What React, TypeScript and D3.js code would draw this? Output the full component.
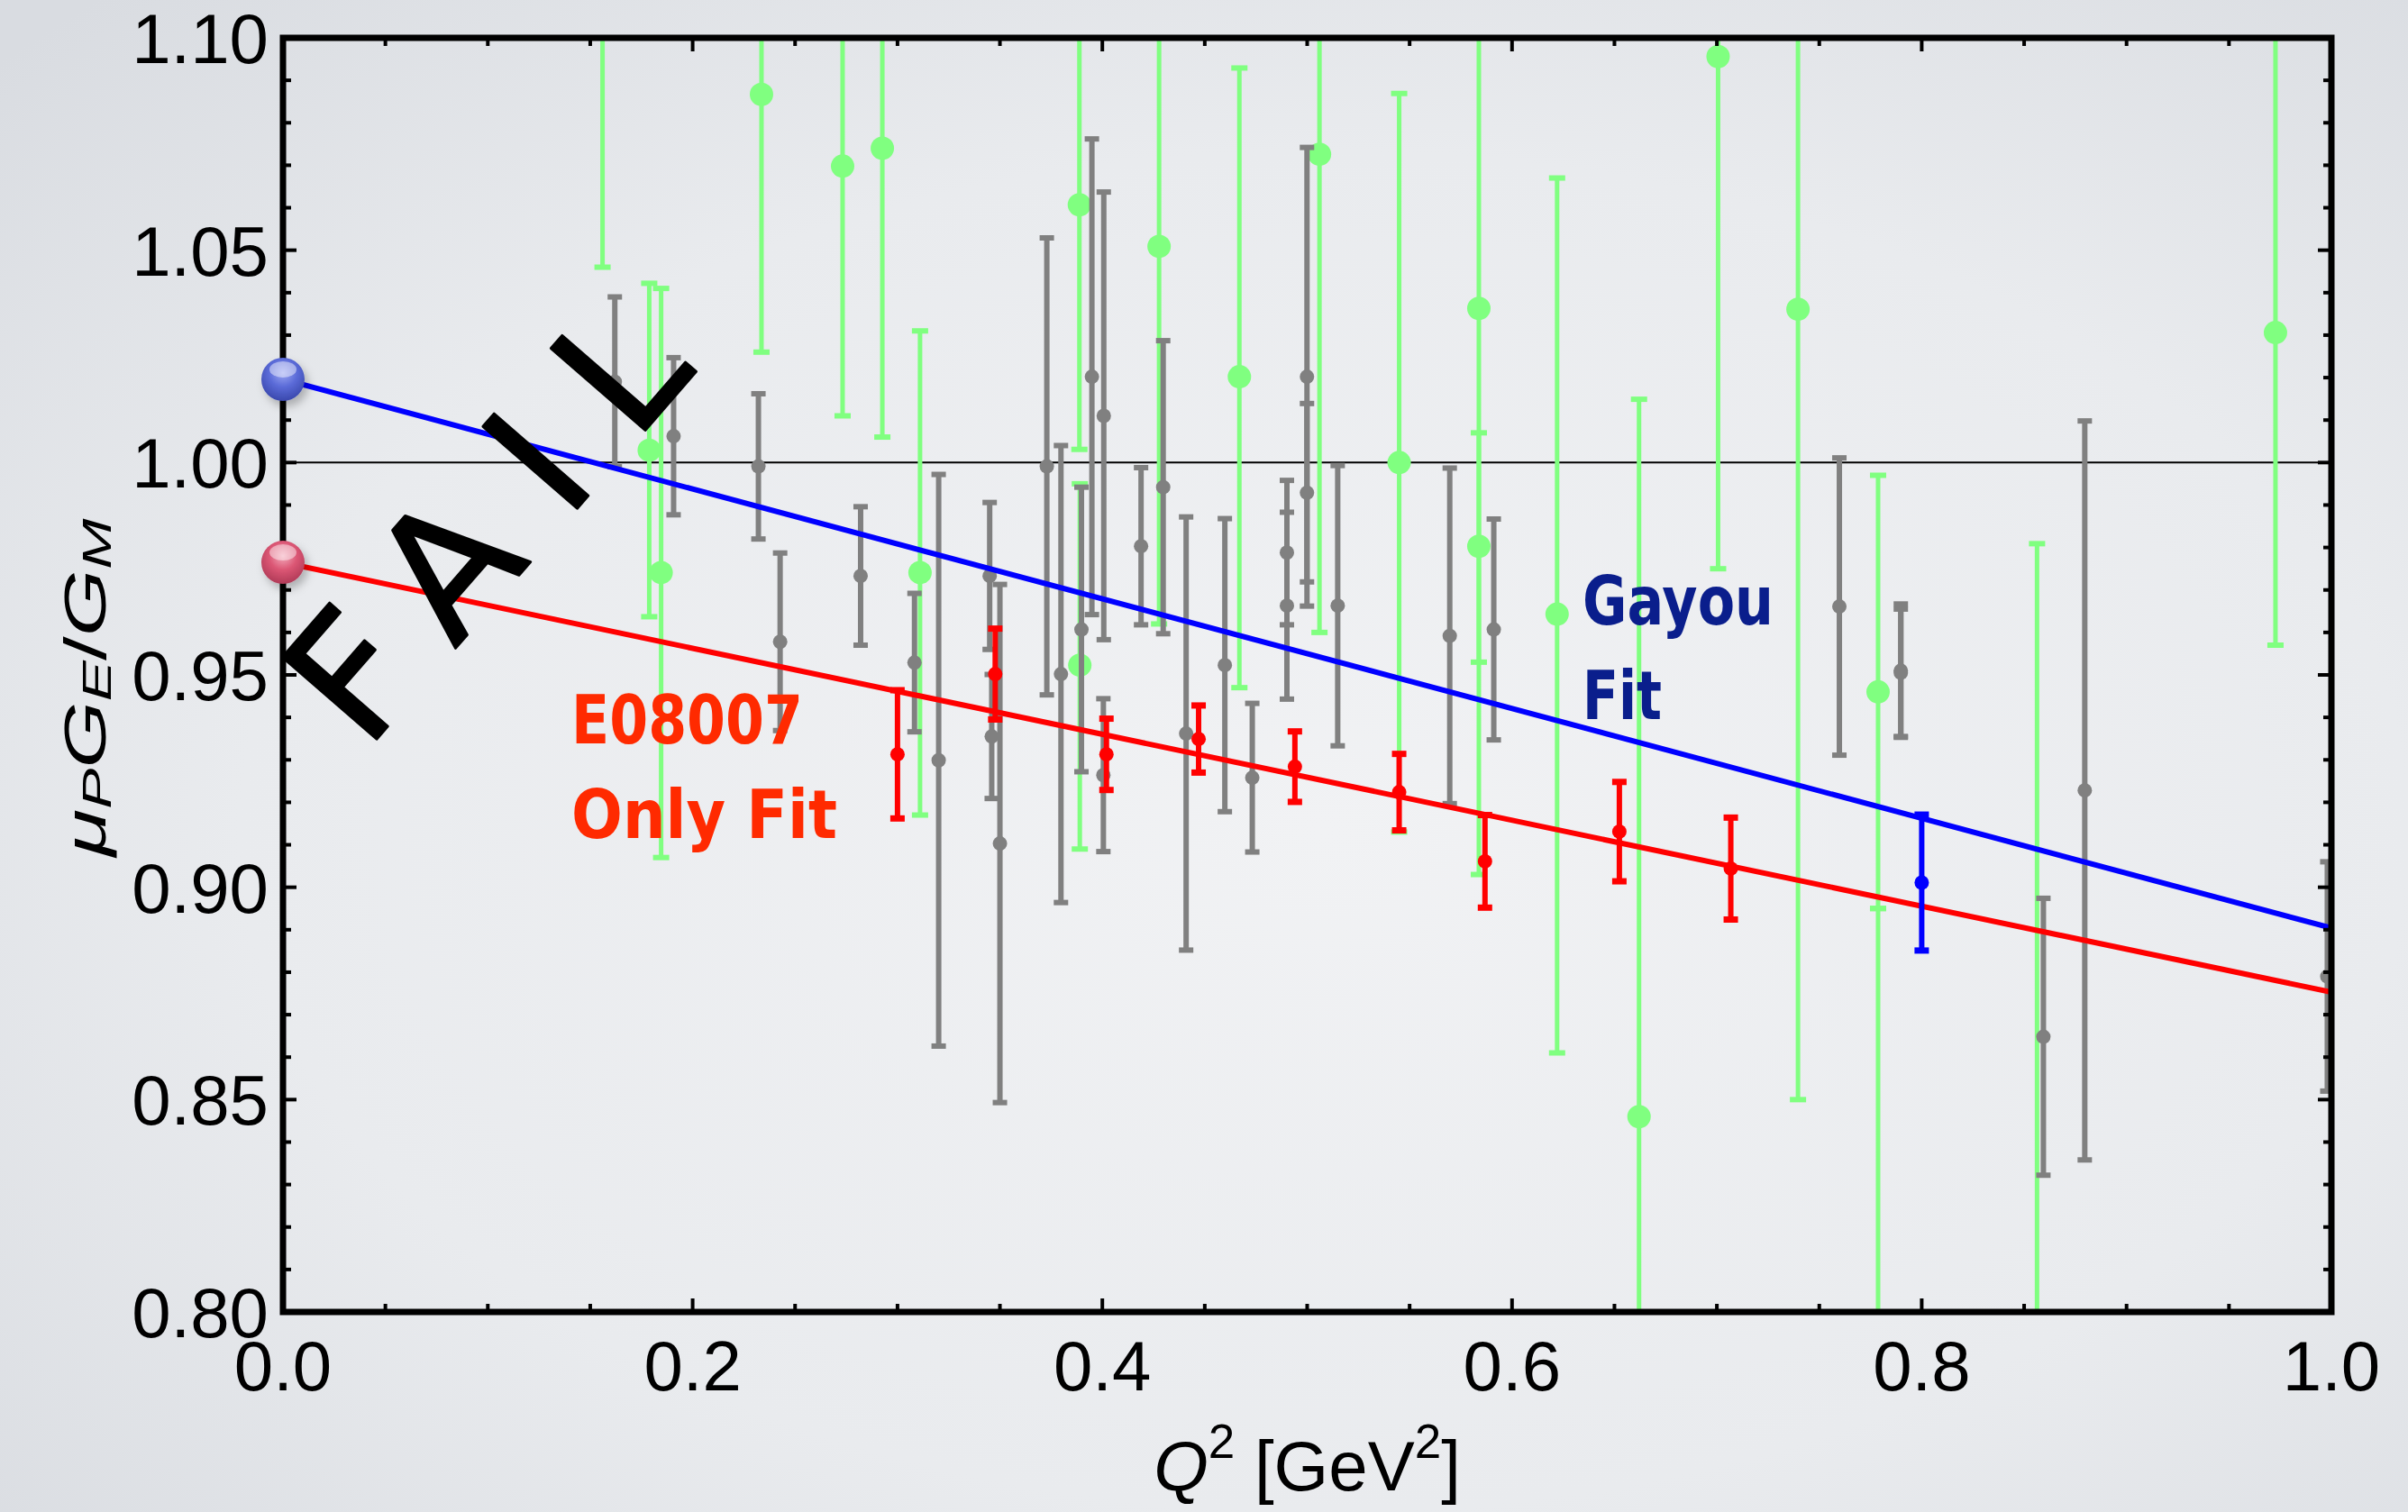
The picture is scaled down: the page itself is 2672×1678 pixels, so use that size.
import * as d3 from "d3";

const WIDTH = 2672;
const HEIGHT = 1678;
const MARGIN = { top: 42, right: 85, bottom: 222, left: 314 };

// E08007 data (red)
const e08007Q2 = [0.3, 0.3477, 0.402, 0.447, 0.494, 0.5449, 0.5868, 0.6524, 0.7068];
const e08007Val = [0.9313, 0.9502, 0.9313, 0.9349, 0.9284, 0.9224, 0.9061, 0.9131, 0.9044];
const e08007Err = [0.0151, 0.0107, 0.0084, 0.0079, 0.0083, 0.009, 0.0109, 0.0117, 0.012];

// single blue point
const blueQ2 = [0.8];
const blueVal = [0.9011];
const blueErr = [0.016];

// world data, polarization measurements (gray)
const grayQ2 = [
  0.162, 0.1907, 0.2321, 0.2427, 0.282, 0.3083, 0.3201, 0.345, 0.346, 0.35, 0.3729, 0.3798,
  0.3898, 0.3949, 0.4005, 0.4007, 0.4189, 0.4297, 0.4409, 0.4598, 0.4732, 0.4901, 0.4901,
  0.4999, 0.4999, 0.5149, 0.5696, 0.5911, 0.7598, 0.7898, 0.7898, 0.8594, 0.8796, 0.998,
];
const grayVal = [
  1.019, 1.0062, 0.9991, 0.9578, 0.9733, 0.9529, 0.9299, 0.9733, 0.9355, 0.9103, 0.9991, 0.9502,
  0.9607, 1.0202, 0.9264, 1.011, 0.9803, 0.9942, 0.9362, 0.9523, 0.9258, 0.9788, 0.9663,
  1.0202, 0.9929, 0.9663, 0.9592, 0.9607, 0.9661, 0.9505, 0.951, 0.8648, 0.9228, 0.879,
];
const grayErr = [
  0.02, 0.0185, 0.0171, 0.0209, 0.0163, 0.0163, 0.0673, 0.0173, 0.0146, 0.061, 0.0538, 0.0538,
  0.0335, 0.056, 0.018, 0.0527, 0.0185, 0.0345, 0.051, 0.0345, 0.0175, 0.017, 0.022,
  0.054, 0.021, 0.033, 0.0395, 0.026, 0.035, 0.015, 0.0157, 0.0326, 0.087, 0.027,
];

// world data, Rosenbluth (green) - lower / upper ends of the bars
const greenQ2 = [
  0.156, 0.1788, 0.1846, 0.2336, 0.2732, 0.2926, 0.311, 0.3888, 0.389, 0.4277, 0.4669, 0.506,
  0.5449, 0.5838, 0.5838, 0.622, 0.662, 0.7006, 0.7396, 0.7787, 0.7787, 0.8563, 0.9727,
];
const greenVal = [
  1.15, 1.0029, 0.9741, 1.0867, 1.0698, 1.074, 0.9741, 1.0607, 0.9523, 1.0509, 1.0202, 1.0726,
  1.0, 1.0363, 0.9803, 0.9643, 0.846, 1.0956, 1.0361, 0.946, 0.78, 0.78, 1.0306,
];
const greenLo = [
  1.046, 0.9637, 0.907, 1.026, 1.011, 1.006, 0.917, 1.0031, 0.909, 0.962, 0.947, 0.96,
  0.913, 0.953, 0.903, 0.861, 0.677, 0.975, 0.85, 0.895, 0.66, 0.58, 0.957,
];
const greenHi = [
  1.254, 1.0422, 1.041, 1.147, 1.129, 1.142, 1.031, 1.118, 0.995, 1.14, 1.0929, 1.186,
  1.0869, 1.119, 1.007, 1.067, 1.0149, 1.216, 1.222, 0.997, 0.895, 0.9809, 1.104,
];

// linear fits, value at Q2 = 0 and Q2 = 1
const fitQ2 = [0, 1];
const gayouFit = [1.0196, 0.8904];
const e08007Fit = [0.9765, 0.8753];

const xScale = d3.scaleLinear().domain([0, 1]).range([MARGIN.left, WIDTH - MARGIN.right]);
const yScale = d3.scaleLinear().domain([0.8, 1.1]).range([HEIGHT - MARGIN.bottom, MARGIN.top]);

const x0 = xScale(0);
const x1 = xScale(1);
const yBot = yScale(0.8);
const yTop = yScale(1.1);

const TICK_FONT = "'Liberation Sans', Arial, Helvetica, sans-serif";
const HAND_FONT = "'Comic Sans MS', Chalkboard, 'DejaVu Sans', sans-serif";

const ErrorBars = ({ q2, val, lo, hi, color, barW, capW, capH, r }) => (
  <g>
    {q2.map((q, i) => {
      const cx = xScale(q);
      const yl = yScale(lo[i]);
      const yh = yScale(hi[i]);
      return (
        <g key={i}>
          <line x1={cx} x2={cx} y1={yl} y2={yh} stroke={color} strokeWidth={barW} />
          <rect x={cx - capW / 2} y={yl - capH / 2} width={capW} height={capH} fill={color} />
          <rect x={cx - capW / 2} y={yh - capH / 2} width={capW} height={capH} fill={color} />
          <circle cx={cx} cy={yScale(val[i])} r={r} fill={color} />
        </g>
      );
    })}
  </g>
);

const Sphere = ({ cx, cy, id }) => (
  <g filter="url(#sphereShadow)">
    <circle cx={cx} cy={cy} r={24} fill={`url(#${id})`} />
    <ellipse cx={cx} cy={cy - 11} rx={15} ry={9} fill="white" opacity={0.45} />
  </g>
);

export default function App() {
  const fitLine = d3
    .line()
    .x((d) => xScale(d[0]))
    .y((d) => yScale(d[1]));

  const xMajor = xScale.ticks(5);
  const xMinor = d3.range(0, 21).map((i) => i * 0.05);
  const yMajor = d3.range(0, 7).map((i) => 0.8 + i * 0.05);
  const yMinor = d3.range(0, 31).map((i) => 0.8 + i * 0.01);

  const symLo = (v, e) => v.map((d, i) => d - e[i]);
  const symHi = (v, e) => v.map((d, i) => d + e[i]);

  return (
    <svg
      width={WIDTH}
      height={HEIGHT}
      style={{ position: "absolute", left: 0, top: 0, display: "block" }}
    >
      <defs>
        <radialGradient id="bg" cx="55%" cy="55%" r="75%">
          <stop offset="0%" stopColor="#f1f2f4" />
          <stop offset="60%" stopColor="#e9ebee" />
          <stop offset="100%" stopColor="#d9dce1" />
        </radialGradient>
        <radialGradient id="blueBall" cx="50%" cy="35%" r="65%">
          <stop offset="0%" stopColor="#9aa6f2" />
          <stop offset="50%" stopColor="#5b6bd8" />
          <stop offset="100%" stopColor="#3a48ad" />
        </radialGradient>
        <radialGradient id="redBall" cx="50%" cy="35%" r="65%">
          <stop offset="0%" stopColor="#f3a9ba" />
          <stop offset="50%" stopColor="#db5674" />
          <stop offset="100%" stopColor="#b03a57" />
        </radialGradient>
        <filter id="sphereShadow" x="-50%" y="-50%" width="200%" height="200%">
          <feDropShadow dx="4" dy="6" stdDeviation="5" floodColor="#000" floodOpacity="0.25" />
        </filter>
        <clipPath id="plotClip">
          <rect x={x0} y={yTop} width={x1 - x0} height={yBot - yTop} />
        </clipPath>
      </defs>

      <rect x={0} y={0} width={WIDTH} height={HEIGHT} fill="url(#bg)" />

      {/* reference line at 1 */}
      <line x1={x0} x2={x1} y1={yScale(1)} y2={yScale(1)} stroke="black" strokeWidth={2} />

      <g clipPath="url(#plotClip)">
        <ErrorBars
          q2={greenQ2}
          val={greenVal}
          lo={greenLo}
          hi={greenHi}
          color="#80ff80"
          barW={5}
          capW={18}
          capH={6}
          r={13}
        />
        <ErrorBars
          q2={grayQ2}
          val={grayVal}
          lo={symLo(grayVal, grayErr)}
          hi={symHi(grayVal, grayErr)}
          color="#808080"
          barW={6}
          capW={16}
          capH={6}
          r={8}
        />
        <path
          d={fitLine(fitQ2.map((q, i) => [q, gayouFit[i]]))}
          stroke="#0000ff"
          strokeWidth={6}
          fill="none"
        />
        <path
          d={fitLine(fitQ2.map((q, i) => [q, e08007Fit[i]]))}
          stroke="#ff0000"
          strokeWidth={6}
          fill="none"
        />
        <ErrorBars
          q2={e08007Q2}
          val={e08007Val}
          lo={symLo(e08007Val, e08007Err)}
          hi={symHi(e08007Val, e08007Err)}
          color="#ff0000"
          barW={6}
          capW={16}
          capH={7}
          r={8}
        />
        <ErrorBars
          q2={blueQ2}
          val={blueVal}
          lo={symLo(blueVal, blueErr)}
          hi={symHi(blueVal, blueErr)}
          color="#0000ff"
          barW={6}
          capW={16}
          capH={7}
          r={8}
        />
      </g>

      {/* frame and ticks */}
      <rect x={x0} y={yTop} width={x1 - x0} height={yBot - yTop} fill="none" stroke="black" strokeWidth={7} />
      {xMinor.map((v, i) => {
        const len = xMajor.some((m) => Math.abs(m - v) < 1e-6) ? 15 : 9;
        return (
          <g key={`xt${i}`}>
            <line x1={xScale(v)} x2={xScale(v)} y1={yBot} y2={yBot - len} stroke="black" strokeWidth={4} />
            <line x1={xScale(v)} x2={xScale(v)} y1={yTop} y2={yTop + len} stroke="black" strokeWidth={4} />
          </g>
        );
      })}
      {yMinor.map((v, i) => {
        const len = yMajor.some((m) => Math.abs(m - v) < 1e-6) ? 15 : 9;
        return (
          <g key={`yt${i}`}>
            <line x1={x0} x2={x0 + len} y1={yScale(v)} y2={yScale(v)} stroke="black" strokeWidth={4} />
            <line x1={x1} x2={x1 - len} y1={yScale(v)} y2={yScale(v)} stroke="black" strokeWidth={4} />
          </g>
        );
      })}
      {yMajor.map((v, i) => (
        <text
          key={`yl${i}`}
          x={x0 - 16}
          y={yScale(v)}
          dy="0.36em"
          textAnchor="end"
          fontSize={78}
          fontFamily={TICK_FONT}
        >
          {d3.format(".2f")(v)}
        </text>
      ))}
      {xMajor.map((v, i) => (
        <text
          key={`xl${i}`}
          x={xScale(v)}
          y={yBot + 87}
          textAnchor="middle"
          fontSize={78}
          fontFamily={TICK_FONT}
        >
          {d3.format(".1f")(v)}
        </text>
      ))}

      {/* axis titles */}
      <text x={(x0 + x1) / 2} y={1654} textAnchor="middle" fontSize={78} fontFamily={TICK_FONT}>
        <tspan fontStyle="italic">Q</tspan>
        <tspan fontSize={53} dy={-36}>2</tspan>
        <tspan dy={36}> [GeV</tspan>
        <tspan fontSize={53} dy={-36}>2</tspan>
        <tspan dy={36}>]</tspan>
      </text>
      <g transform={`translate(117, ${(yTop + yBot) / 2 + 14}) rotate(-90) scale(1.5, 1)`}>
        <text textAnchor="middle" fontSize={64} fontFamily={TICK_FONT} fontStyle="italic">
          <tspan>μ</tspan>
          <tspan fontSize={45} dy={6}>P</tspan>
          <tspan dy={-6}>G</tspan>
          <tspan fontSize={45} dy={6}>E</tspan>
          <tspan dy={-6} fontStyle="normal">/</tspan>
          <tspan>G</tspan>
          <tspan fontSize={45} dy={6}>M</tspan>
        </text>
      </g>

      {/* fit annotations */}
      <Sphere cx={x0} cy={yScale(gayouFit[0])} id="blueBall" />
      <Sphere cx={x0} cy={yScale(e08007Fit[0])} id="redBall" />

      <g fontFamily={HAND_FONT} fontWeight="bold" fontSize={74}>
        <text x={634} y={825} fill="#ff2a00" textLength={257} lengthAdjust="spacingAndGlyphs">
          E08007
        </text>
        <text x={634} y={930} fill="#ff2a00" textLength={295} lengthAdjust="spacingAndGlyphs">
          Only  Fit
        </text>
        <text x={1756} y={693} fill="#0a1e8c" textLength={212} lengthAdjust="spacingAndGlyphs">
          Gayou
        </text>
        <text x={1756} y={798} fill="#0a1e8c" textLength={88} lengthAdjust="spacingAndGlyphs">
          Fit
        </text>
      </g>

      <text
        transform="translate(540, 580) rotate(-49)"
        textAnchor="middle"
        dominantBaseline="central"
        fontFamily="'DejaVu Sans', sans-serif"
        fontWeight="normal"
        fontSize={190}
        fill="black"
        stroke="black"
        strokeWidth={3}
        strokeLinejoin="round"
        textLength={560}
        lengthAdjust="spacing"
      >
        FAIL
      </text>
    </svg>
  );
}
